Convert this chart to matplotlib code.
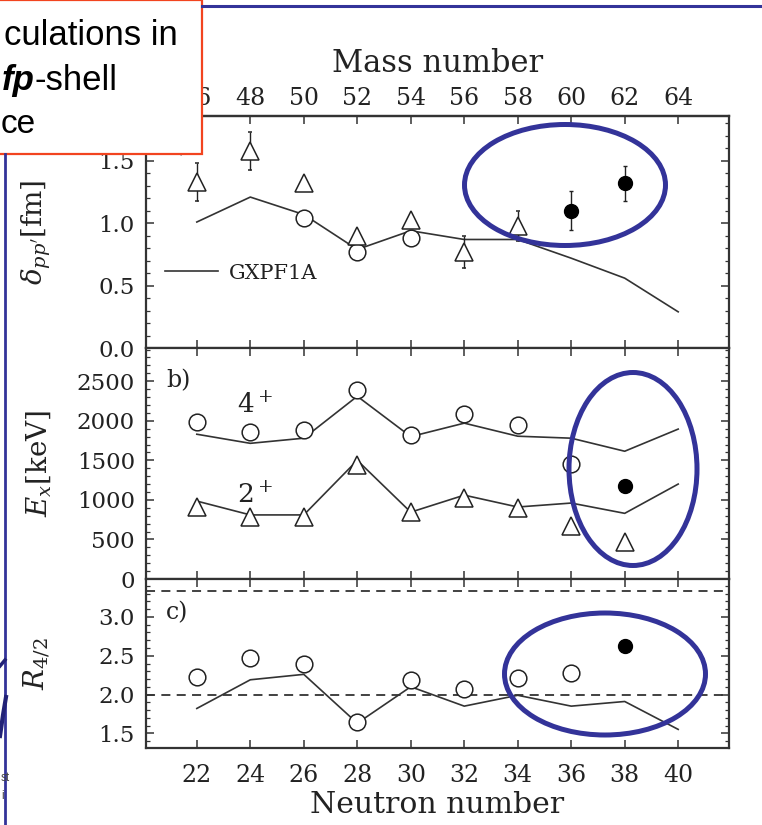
import matplotlib
matplotlib.use('Agg')
import matplotlib.pyplot as plt
from matplotlib.patches import Ellipse, Rectangle
from matplotlib.ticker import MultipleLocator

plt.rcParams['font.family'] = 'DejaVu Serif'
plt.rcParams['mathtext.fontset'] = 'dejavuserif'

# neutron numbers for the shell model curves
N = [22, 24, 26, 28, 30, 32, 34, 36, 38, 40]
mass_ticks = [46, 48, 50, 52, 54, 56, 58, 60, 62, 64]
Z = 24

# a) delta_pp'
dpp_gx = [1.01, 1.21, 1.07, 0.79, 0.94, 0.87, 0.87, 0.72, 0.56, 0.29]
dpp_tri_N = [22, 24, 26, 28, 30, 32, 34]
dpp_tri = [1.33, 1.58, 1.32, 0.90, 1.03, 0.77, 0.98]
dpp_tri_err = [0.15, 0.15, 0.0, 0.0, 0.0, 0.13, 0.12]
dpp_circ_N = [26, 28, 30]
dpp_circ = [1.04, 0.77, 0.88]
dpp_new_N = [36, 38]
dpp_new = [1.10, 1.32]
dpp_new_err = [0.155, 0.14]

# b) excitation energies
e4_gx = [1830, 1715, 1780, 2310, 1800, 1970, 1805, 1780, 1615, 1895]
e2_gx = [985, 810, 810, 1500, 845, 1060, 910, 960, 830, 1200]
e4_N = [22, 24, 26, 28, 30, 32, 34, 36]
e4_exp = [1980, 1855, 1880, 2385, 1820, 2085, 1945, 1450]
e2_N = [22, 24, 26, 28, 30, 32, 34, 36, 38]
e2_exp = [910, 780, 780, 1440, 845, 1025, 900, 670, 465]
new_N = [38]
e4_new = [1175]

# c) R4/2
r42_gx = [1.82, 2.19, 2.26, 1.63, 2.10, 1.85, 1.99, 1.85, 1.91, 1.55]
r42_N = [22, 24, 26, 28, 30, 32, 34, 36]
r42_exp = [2.22, 2.47, 2.40, 1.65, 2.19, 2.07, 2.21, 2.28]
r42_new = [2.62]
r42_ref = [2.0, 3.33]

ink = '#222222'
fig = plt.figure(figsize=(7.62, 8.25), dpi=100)
W, H = 762, 825
def box(x0, x1, y0, y1):
    return [x0 / W, 1 - y1 / H, (x1 - x0) / W, (y1 - y0) / H]

axa = fig.add_axes(box(146, 729, 116, 348))
axb = fig.add_axes(box(146, 729, 348, 579))
axc = fig.add_axes(box(146, 729, 579, 748))

line_kw = dict(color='#333333', lw=1.2, zorder=2)
open_c = dict(ls='none', marker='o', ms=12, mfc='white', mec=ink, mew=1.1, zorder=3)
open_t = dict(ls='none', marker='^', ms=13, mfc='white', mec=ink, mew=1.1, zorder=3)
full_c = dict(ls='none', marker='o', ms=10, mfc='black', mec='black', zorder=3)

for ax in (axa, axb, axc):
    ax.set_xlim(20.1, 41.9)
    ax.set_xticks(N)
    for s in ax.spines.values():
        s.set_linewidth(1.6)
        s.set_color('#333333')
    ax.tick_params(direction='in', which='both', top=True, right=True,
                   colors='#333333', labelcolor=ink, labelsize=16.5, pad=8)
    ax.tick_params(which='major', length=6, width=1.1)
    ax.tick_params(which='minor', length=3, width=0.9)
    ax.tick_params(axis='x', labelbottom=False)

# panel a
axa.plot(N, dpp_gx, label='GXPF1A', **line_kw)
axa.errorbar(dpp_tri_N, dpp_tri, yerr=dpp_tri_err, ecolor=ink, elinewidth=1,
             capsize=1.5, **open_t)
axa.plot(dpp_circ_N, dpp_circ, **open_c)
axa.errorbar(dpp_new_N, dpp_new, yerr=dpp_new_err, ecolor=ink, elinewidth=1,
             capsize=1.5, **full_c)
axa.set_ylim(0, 1.86)
axa.set_yticks([0.0, 0.5, 1.0, 1.5])
axa.yaxis.set_minor_locator(MultipleLocator(0.1))
axa.set_ylabel(r"$\delta_{pp^{\prime}}$[fm]", fontsize=20, color=ink)
axa.legend(loc='center left', bbox_to_anchor=(0.033, 0.323), frameon=False,
           fontsize=15, handlelength=2.55, handletextpad=0.5,
           borderpad=0, borderaxespad=0, labelcolor=ink)
axa.text(0.034, 0.92, 'a)', transform=axa.transAxes, fontsize=17, color=ink,
         va='top')
axa.tick_params(axis='x', top=False)
top = axa.secondary_xaxis('top', functions=(lambda n: n + Z, lambda a: a - Z))
top.set_xticks(mass_ticks)
top.tick_params(direction='in', length=6, width=1.1, colors='#333333',
                labelcolor=ink, labelsize=17, pad=4)
top.spines['top'].set_linewidth(1.6)
top.spines['top'].set_color('#333333')
top.set_xlabel('Mass number', fontsize=22, color=ink, labelpad=11)

# panel b
axb.plot(N, e4_gx, **line_kw)
axb.plot(N, e2_gx, **line_kw)
axb.plot(e4_N, e4_exp, **open_c)
axb.plot(e2_N, e2_exp, **open_t)
axb.plot(new_N, e4_new, **full_c)
axb.set_ylim(0, 2920)
axb.set_yticks([0, 500, 1000, 1500, 2000, 2500])
axb.yaxis.set_minor_locator(MultipleLocator(100))
axb.set_ylabel(r'$E_x$[keV]', fontsize=20, color=ink)
axb.text(23.5, 2200, r'$4^+$', fontsize=19, color=ink, va='center')
axb.text(23.5, 1060, r'$2^+$', fontsize=19, color=ink, va='center')
axb.text(0.034, 0.91, 'b)', transform=axb.transAxes, fontsize=17, color=ink,
         va='top')

# panel c
for r in r42_ref:
    axc.axhline(r, color='#333333', lw=1.3, ls=(0, (5, 3.5)), zorder=1)
axc.plot(N, r42_gx, **line_kw)
axc.plot(r42_N, r42_exp, **open_c)
axc.plot(new_N, r42_new, **full_c)
axc.set_ylim(1.31, 3.49)
axc.set_yticks([1.5, 2.0, 2.5, 3.0])
axc.yaxis.set_minor_locator(MultipleLocator(0.1))
axc.set_ylabel(r'$R_{4/2}$', fontsize=20, color=ink)
axc.text(0.034, 0.87, 'c)', transform=axc.transAxes, fontsize=17, color=ink,
         va='top')
axc.tick_params(axis='x', labelbottom=True, labelsize=17, pad=11.5)
axc.set_xlabel('Neutron number', fontsize=21.5, color=ink, labelpad=3)

for ax in (axa, axb, axc):
    ax.yaxis.set_label_coords(-0.16, 0.5)

# slide overlay: text box, frame lines and highlight ellipses
ov = fig.add_axes([0, 0, 1, 1], zorder=10)
ov.set_xlim(0, W)
ov.set_ylim(H, 0)
ov.axis('off')
ov.patch.set_alpha(0)
blue = '#333399'
ov.plot([202, W], [6, 6], color=blue, lw=2.2)
ov.plot([5, 5], [154, H], color=blue, lw=2.0)
ov.add_patch(Rectangle((-10, 0), 212, 154, fc='white', ec='#f2441f', lw=1.6))
sans = 'Liberation Sans'
ov.text(178, 45, 'culations in', ha='right', va='baseline', fontsize=25,
        family=sans, color='black')
ov.text(35, 90, 'fp', ha='right', va='baseline', fontsize=25, family=sans,
        weight='bold', style='italic', color='black')
ov.text(35, 90, '-shell', ha='left', va='baseline', fontsize=25, family=sans,
        color='black')
ov.text(1, 133, 'ce', ha='left', va='baseline', fontsize=24, family=sans,
        color='black')
for cx, cy, w, h in [(565, 185, 201, 121), (633, 469, 128, 193),
                     (605, 674, 201, 122)]:
    ov.add_patch(Ellipse((cx, cy), w, h, fill=False, ec=blue, lw=3.6))
ov.plot([0, 5], [666, 660], color='#222277', lw=2.5)
ov.plot([0, 3, 6], [736, 715, 697], color='#222277', lw=3)
ov.text(1, 778, 'st', ha='left', va='center', fontsize=8.5, family=sans,
        color='#444444')
ov.text(1, 796, 'i', ha='left', va='center', fontsize=8.5, family=sans,
        color='#444444')

fig.savefig('out.png', dpi=100)
